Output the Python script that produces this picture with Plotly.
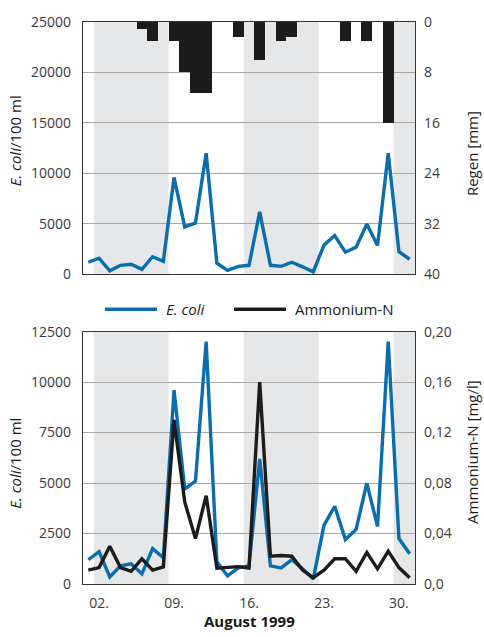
import plotly.graph_objects as go

# Daily sampling, August 1999
days = list(range(1, 32))
ecoli = [1200, 1600, 350, 900, 1000, 500, 1750, 1300, 9600, 4700, 5100, 12000,
         1100, 400, 800, 900, 6200, 900, 800, 1200, 750, 250, 2900, 3850,
         2200, 2700, 5000, 2850, 12000, 2250, 1500]
ammonium = [0.011, 0.013, 0.030, 0.013, 0.010, 0.020, 0.011, 0.0135, 0.130, 0.065,
            0.036, 0.070, 0.0125, 0.013, 0.0138, 0.0127, 0.160, 0.022, 0.0226, 0.022,
            0.011, 0.005, 0.011, 0.020, 0.020, 0.010, 0.025, 0.012, 0.026, 0.013, 0.005]
rain_days = [6, 7, 9, 10, 11, 12, 15, 17, 19, 20, 25, 27, 29]
rain_mm = [1.1, 3.0, 3.0, 8.0, 11.2, 11.2, 2.4, 6.0, 3.0, 2.4, 3.0, 3.0, 16.0]

# Alternate weeks shaded (first and last day of each shaded week)
shaded_weeks = [(2, 8), (16, 22), (30, 31)]

x_tickvals = [2, 9, 16, 23, 30]
x_ticktext = ["02.", "09.", "16.", "23.", "30."]
ecoli_top_ticks = [0, 5000, 10000, 15000, 20000, 25000]
rain_ticks = [0, 8, 16, 24, 32, 40]
ecoli_bottom_ticks = [0, 2500, 5000, 7500, 10000, 12500]
nh4_ticks = [0, 0.04, 0.08, 0.12, 0.16, 0.20]
nh4_ticktext = ["0,0", "0,04", "0,08", "0,12", "0,16", "0,20"]

BLUE = "#0a6eae"
BLACK = "#1c1c1c"
BAND = "#e6e7e8"
GRID = "#a8a8a8"
AXIS = "#333333"
FONT = "Open Sans, Noto Sans, DejaVu Sans, sans-serif"

fig = go.Figure()

# Top panel: E. coli (left) and rainfall bars hanging from the top (right, reversed)
fig.add_trace(go.Scatter(x=days, y=ecoli, mode="lines", xaxis="x2", yaxis="y",
                         line=dict(color=BLUE, width=3.4), showlegend=False))
fig.add_trace(go.Bar(x=rain_days, y=rain_mm, base=0, width=1.0, xaxis="x2", yaxis="y2",
                     marker=dict(color=BLACK, line=dict(width=0)), showlegend=False))

# Bottom panel: E. coli (left) and ammonium-N (right)
fig.add_trace(go.Scatter(x=days, y=ecoli, mode="lines", xaxis="x", yaxis="y3",
                         line=dict(color=BLUE, width=3.4), showlegend=False))
fig.add_trace(go.Scatter(x=days, y=ammonium, mode="lines", xaxis="x", yaxis="y4",
                         line=dict(color=BLACK, width=3.4), showlegend=False))

top_dom = [0.5509, 1.0]
bot_dom = [0.0, 0.4491]
xr = [0.5, 31.5]
tickfont = dict(family=FONT, size=14, color="#3a3a3a")

common_x = dict(range=xr, showgrid=False, zeroline=False, showline=True, mirror=True,
                linecolor=AXIS, linewidth=1.3, ticks="", fixedrange=True)
common_y = dict(showgrid=True, gridcolor=GRID, gridwidth=1.2, zeroline=False,
                showline=True, mirror=True, linecolor=AXIS, linewidth=1.3, ticks="",
                tickfont=tickfont, ticklabelstandoff=8)

fig.update_layout(
    width=484, height=637,
    margin=dict(l=83, r=69, t=14, b=53),
    paper_bgcolor="white", plot_bgcolor="rgba(0,0,0,0)",
    font=dict(family=FONT, size=14, color="#222"),
    bargap=0,
    xaxis=dict(common_x, anchor="y3", domain=[0, 1], tickvals=x_tickvals,
               ticktext=x_ticktext, tickfont=tickfont, ticklabelstandoff=6),
    xaxis2=dict(common_x, anchor="y", domain=[0, 1], showticklabels=False),
    yaxis=dict(common_y, domain=top_dom, anchor="x2", range=[0, 25000],
               tickvals=ecoli_top_ticks, tickformat="d"),
    yaxis2=dict(domain=top_dom, anchor="x2", overlaying="y", side="right",
                range=[40, 0], tickvals=rain_ticks, showgrid=False, zeroline=False,
                showline=False, ticks="", tickfont=tickfont, ticklabelstandoff=8),
    yaxis3=dict(common_y, domain=bot_dom, anchor="x", range=[0, 12500],
                tickvals=ecoli_bottom_ticks, tickformat="d"),
    yaxis4=dict(domain=bot_dom, anchor="x", overlaying="y3", side="right",
                range=[0, 0.2], tickvals=nh4_ticks, ticktext=nh4_ticktext,
                showgrid=False, zeroline=False, showline=False, ticks="",
                tickfont=tickfont, ticklabelstandoff=8),
)

# Shaded weeks behind the grid in both panels
shapes = []
for a, b in shaded_weeks:
    for yref in ("y domain", "y3 domain"):
        shapes.append(dict(type="rect", xref="x", yref=yref, x0=a - 0.5,
                           x1=min(b + 0.5, xr[1]), y0=0, y1=1, fillcolor=BAND,
                           line=dict(width=0), layer="below"))

# Legend between the panels
legend_y = 0.489
def px(xp):
    return (xp - 83) / 332.0
shapes.append(dict(type="line", xref="paper", yref="paper", x0=px(105), x1=px(157),
                   y0=legend_y, y1=legend_y, line=dict(color=BLUE, width=3.4)))
shapes.append(dict(type="line", xref="paper", yref="paper", x0=px(234), x1=px(286),
                   y0=legend_y, y1=legend_y, line=dict(color=BLACK, width=3.4)))
fig.update_layout(shapes=shapes)

title_font = dict(family=FONT, size=15, color="#1a1a1a")
annotations = [
    dict(text="<i>E. coli</i>", x=px(164), y=legend_y, xref="paper", yref="paper",
         xanchor="left", yanchor="middle", showarrow=False, font=title_font),
    dict(text="Ammonium-N", x=px(293), y=legend_y, xref="paper", yref="paper",
         xanchor="left", yanchor="middle", showarrow=False, font=title_font),
    dict(text="<i>E. coli</i>/100 ml", x=px(15), y=(584 - 135) / 570, xref="paper",
         yref="paper", textangle=-90, xanchor="center", yanchor="middle",
         showarrow=False, font=title_font),
    dict(text="Regen [mm]", x=px(472), y=(584 - 148) / 570, xref="paper",
         yref="paper", textangle=-90, xanchor="center", yanchor="middle",
         showarrow=False, font=title_font),
    dict(text="<i>E. coli</i>/100 ml", x=px(15), y=(584 - 462) / 570, xref="paper",
         yref="paper", textangle=-90, xanchor="center", yanchor="middle",
         showarrow=False, font=title_font),
    dict(text="Ammonium-N [mg/l]", x=px(472), y=(584 - 450) / 570, xref="paper",
         yref="paper", textangle=-90, xanchor="center", yanchor="middle",
         showarrow=False, font=title_font),
    dict(text="<b>August 1999</b>", x=px(249), y=(584 - 622) / 570, xref="paper",
         yref="paper", xanchor="center", yanchor="middle", showarrow=False,
         font=title_font),
]
fig.update_layout(annotations=annotations)

fig.write_html("out.html")
